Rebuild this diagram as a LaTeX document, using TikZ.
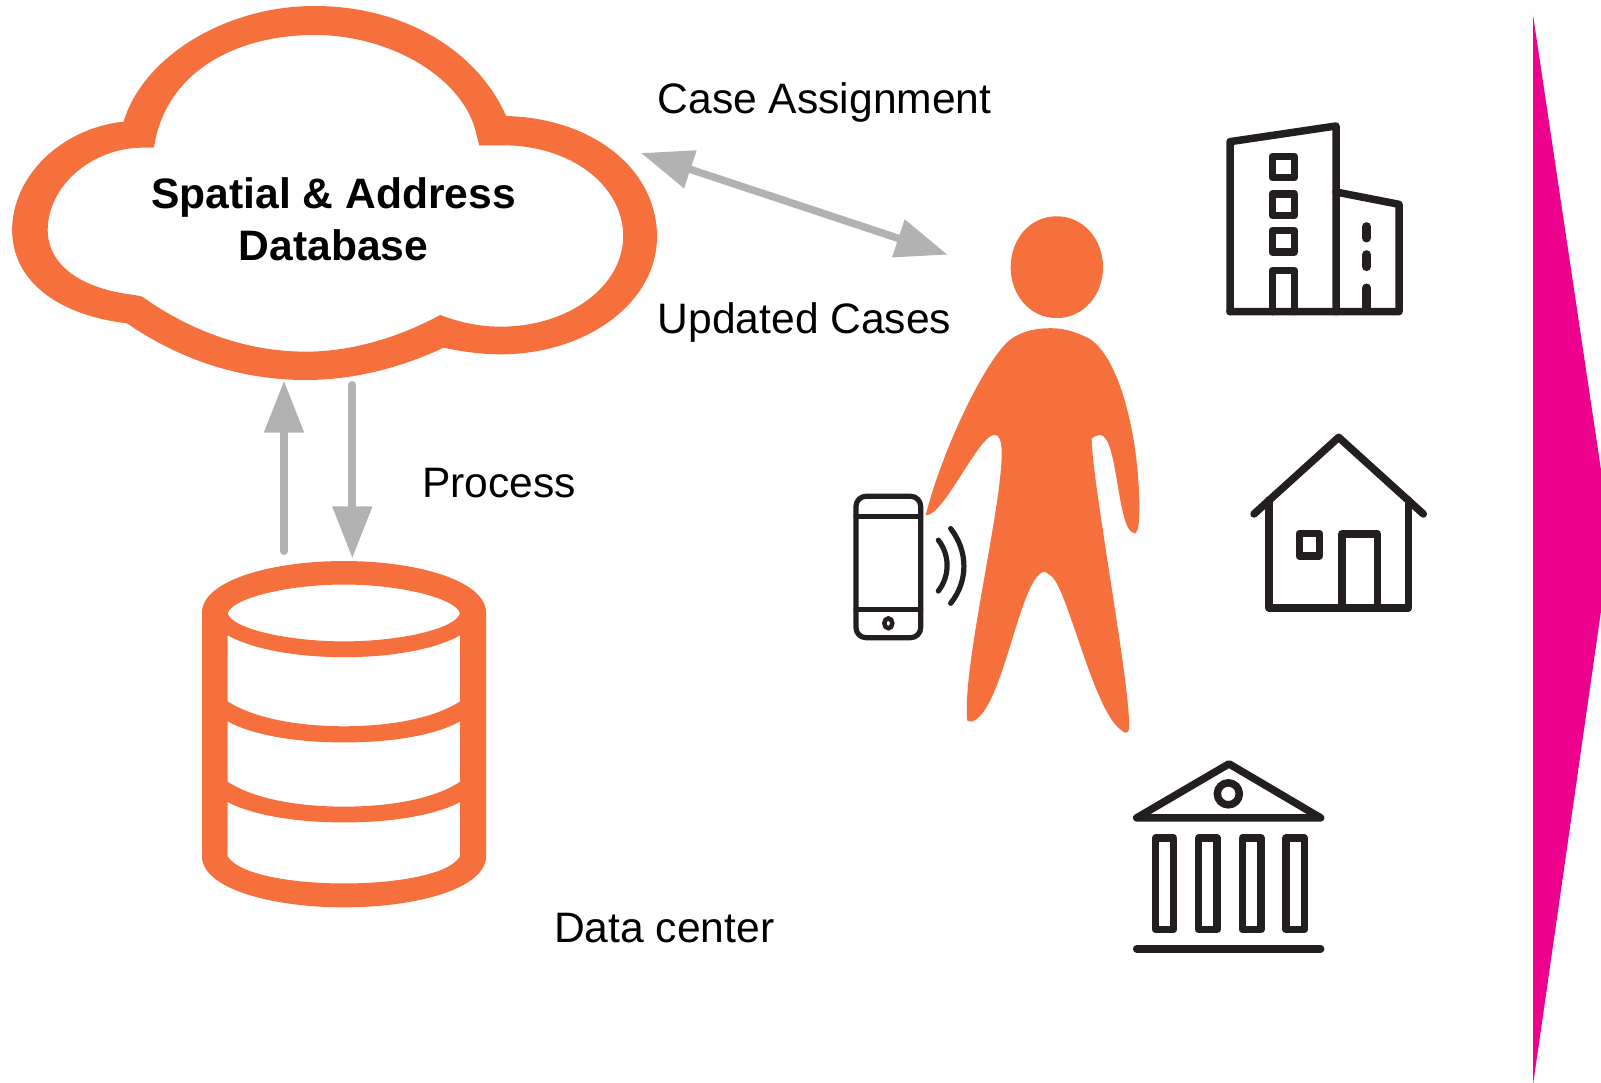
\documentclass[tikz,border=0pt]{standalone}
\usepackage{fontspec}
\setmainfont{Liberation Sans}
\usetikzlibrary{arrows.meta}
\definecolor{orangeC}{HTML}{F6703D}
\definecolor{grayC}{HTML}{B2B2B2}
\definecolor{iconC}{HTML}{231F20}
\definecolor{pinkC}{HTML}{EC008C}
\tikzset{
  lbl/.style={anchor=base west,inner sep=0pt,font=\fontsize{42.6pt}{51pt}\selectfont,text=black},
  boldlbl/.style={anchor=base,inner sep=0pt,font=\fontsize{42.6pt}{51pt}\selectfont\bfseries,text=black},
  conn/.style={draw=grayC,line width=8pt,line cap=round,-{Triangle[length=52pt,width=38pt,fill=grayC]}},
  connboth/.style={draw=grayC,line width=7.5pt,{Triangle[length=52pt,width=38pt,fill=grayC]}-{Triangle[length=52pt,width=38pt,fill=grayC]}},
  icon/.style={draw=iconC,line width=7.5pt,line join=round,line cap=round,fill=none},
  thinicon/.style={draw=iconC,line width=5.2pt,line join=round,line cap=round,fill=none},
  orangefill/.style={fill=orangeC,draw=none,even odd rule}
}
\begin{document}
\begin{tikzpicture}[x=1pt,y=-1pt]
\useasboundingbox (0,0) rectangle (1601,1083);
% pink chevron
\fill[pinkC] (1533,15) -- (1601,470) -- (1601,611) -- (1533,1085) -- cycle;
% cloud
\begin{scope}[x=0.43365pt,y=-0.33333pt]
\path[orangefill]
 (285,365) .. controls (330,170) and (520,18) .. (725,18)
 .. controls (930,18) and (1100,150) .. (1167,348)
 .. controls (1370,355) and (1515,510) .. (1515,710)
 .. controls (1515,910) and (1350,1063) .. (1155,1063)
 .. controls (1110,1063) and (1065,1055) .. (1023,1043)
 .. controls (930,1100) and (820,1140) .. (705,1140)
 .. controls (550,1140) and (410,1075) .. (293,970)
 .. controls (130,945) and (28,840) .. (28,690)
 .. controls (28,530) and (140,385) .. (285,365) -- cycle
 (355,443) .. controls (380,220) and (540,105) .. (725,105)
 .. controls (900,105) and (1060,230) .. (1095,385)
 -- (1105,436) -- (1160,436)
 .. controls (1320,436) and (1437,560) .. (1437,708)
 .. controls (1437,860) and (1310,980) .. (1155,980)
 .. controls (1105,980) and (1060,967) .. (1015,945)
 .. controls (930,1005) and (820,1055) .. (705,1055)
 .. controls (560,1055) and (430,985) .. (328,890)
 -- (310,885)
 .. controls (180,865) and (110,790) .. (110,690)
 .. controls (110,560) and (210,443) .. (330,443) -- cycle;
\end{scope}
% database
\begin{scope}[shift={(190,370.5)},x=0.33333pt,y=-0.35088pt]
\path[orangefill]
 (36,690) .. controls (36,600) and (240,543) .. (462,543)
 .. controls (684,543) and (888,600) .. (888,690) -- (888,1385)
 .. controls (888,1475) and (684,1530) .. (462,1530)
 .. controls (240,1530) and (36,1475) .. (36,1385) -- cycle
 (113,692) .. controls (125,650) and (290,610) .. (462,610)
 .. controls (634,610) and (798,650) .. (810,692)
 .. controls (798,735) and (634,772) .. (462,772)
 .. controls (290,772) and (125,735) .. (113,692) -- cycle
 (113,755) .. controls (190,795) and (320,817) .. (462,817)
 .. controls (604,817) and (735,795) .. (810,755) -- (810,943)
 .. controls (735,990) and (604,1014) .. (462,1014)
 .. controls (320,1014) and (190,990) .. (113,943) -- cycle
 (113,1000) .. controls (190,1040) and (320,1060) .. (462,1060)
 .. controls (604,1060) and (735,1040) .. (810,1000) -- (810,1172)
 .. controls (735,1220) and (604,1243) .. (462,1243)
 .. controls (320,1243) and (190,1220) .. (113,1172) -- cycle
 (113,1230) .. controls (190,1268) and (320,1288) .. (462,1288)
 .. controls (604,1288) and (735,1268) .. (810,1230) -- (810,1385)
 .. controls (775,1440) and (604,1462) .. (462,1462)
 .. controls (320,1462) and (150,1440) .. (113,1385) -- cycle;
\end{scope}
% connector ends
\coordinate (dbOut) at (284,551);
\coordinate (cloudIn) at (284,380.5);
\coordinate (cloudOut) at (352.3,385);
\coordinate (dbIn) at (352.3,558.4);
\coordinate (cloudSide) at (641,153);
\coordinate (personSide) at (947.7,254.7);
\draw[conn] (dbOut) -- (cloudIn);
\draw[conn] (cloudOut) -- (dbIn);
\draw[connboth] (cloudSide) -- (personSide);
% labels
\node[boldlbl] (dbline1) at (333.5,209) {Spatial \& Address};
\node[boldlbl] (dbline2) at (333.5,260.5) {Database};
\node[lbl] (caseLbl) at (657.5,114) {Case Assignment};
\node[lbl] (updLbl) at (657.5,334) {Updated Cases};
\node[lbl] (procLbl) at (422,497) {Process};
\node[lbl] (dcLbl) at (554,942.5) {Data center};
% person and phone
\begin{scope}[shift={(830,200.5)},x=0.33333pt,y=-0.35088pt]
\path[orangefill] (542,190) .. controls (542,110) and (600,45) .. (680,45)
 .. controls (760,45) and (819,110) .. (819,190)
 .. controls (819,270) and (760,335) .. (680,335)
 .. controls (600,335) and (542,270) .. (542,190) -- cycle;
\path[orangefill]
 (287,897) .. controls (340,700) and (470,450) .. (540,397)
 .. controls (585,365) and (640,364) .. (665,364)
 .. controls (710,364) and (750,380) .. (780,395)
 .. controls (870,450) and (930,680) .. (928,890)
 .. controls (927,940) and (920,950) .. (912,948)
 .. controls (860,940) and (865,670) .. (810,668)
 .. controls (800,668) and (790,675) .. (785,678)
 .. controls (785,800) and (905,1400) .. (897,1505)
 .. controls (895,1520) and (885,1520) .. (875,1510)
 .. controls (790,1460) and (710,1090) .. (660,1068)
 -- (645,1058)
 .. controls (570,1060) and (520,1460) .. (425,1485)
 -- (412,1483)
 .. controls (395,1340) and (510,900) .. (515,730)
 .. controls (517,680) and (505,665) .. (490,668)
 .. controls (440,680) and (340,900) .. (287,897) -- cycle;
\draw[thinicon,rounded corners=10pt] (78,843) rectangle (272,1246);
\draw[thinicon] (78,900) -- (272,900);
\draw[thinicon] (78,1165) -- (272,1165);
\draw[draw=iconC,line width=4.5pt] (175,1205) ellipse [x radius=12,y radius=14];
\draw[thinicon] (325,968) .. controls (360,1010) and (360,1070) .. (325,1113);
\draw[thinicon] (362,935) .. controls (415,1000) and (415,1085) .. (362,1148);
\end{scope}
% office and house
\begin{scope}[shift={(1200,110)},x=0.33333pt,y=-0.33333pt]
\draw[icon] (90,605) -- (90,95) -- (408,48) -- (408,605);
\draw[icon] (408,246) -- (597,283) -- (597,605) -- (90,605);
\draw[icon] (217,140) rectangle (283,203);
\draw[icon] (217,252) rectangle (283,316);
\draw[icon] (217,362) rectangle (283,426);
\draw[icon] (217,605) -- (217,482) -- (283,482) -- (283,605);
\draw[icon,line width=9pt] (500,350) -- (500,384);
\draw[icon,line width=9pt] (500,434) -- (500,470);
\draw[icon,line width=9pt] (500,534) -- (500,592);
\draw[icon] (162,1212) -- (416,982) -- (670,1212);
\draw[icon] (207,1170) -- (207,1494) -- (625,1494) -- (625,1170);
\draw[icon] (298,1270) rectangle (358,1338);
\draw[icon] (426,1494) -- (426,1272) -- (532,1272) -- (532,1494);
\end{scope}
% bank
\begin{scope}[shift={(1110,750.5)},x=0.33333pt,y=-0.33333pt]
\draw[icon] (80,202) -- (357,40) -- (632,202) -- cycle;
\draw[icon] (355,130) circle [radius=11pt];
\draw[icon] (137,263) rectangle (191,537);
\draw[icon] (266,263) rectangle (321,537);
\draw[icon] (397,263) rectangle (453,537);
\draw[icon] (528,263) rectangle (583,537);
\draw[icon] (80,595) -- (632,595);
\end{scope}
\end{tikzpicture}
\end{document}
